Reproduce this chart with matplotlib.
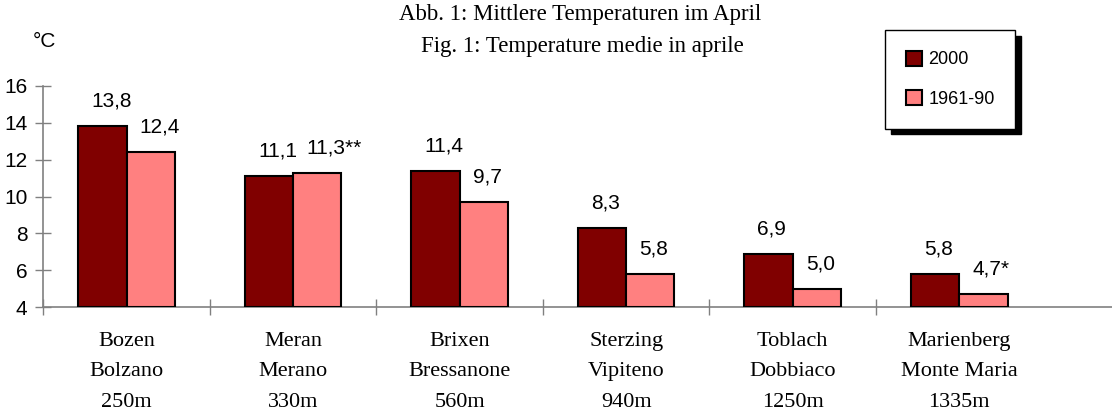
import matplotlib.pyplot as plt
import numpy as np

# data
stations = ['Bozen\nBolzano\n250m', 'Meran\nMerano\n330m', 'Brixen\nBressanone\n560m',
            'Sterzing\nVipiteno\n940m', 'Toblach\nDobbiaco\n1250m', 'Marienberg\nMonte Maria\n1335m']
t2000 = [13.8, 11.1, 11.4, 8.3, 6.9, 5.8]
t6190 = [12.4, 11.3, 9.7, 5.8, 5.0, 4.7]
lbl2000 = ['13,8', '11,1', '11,4', '8,3', '6,9', '5,8']
lbl6190 = ['12,4', '11,3**', '9,7', '5,8', '5,0', '4,7*']
yticks = [4, 6, 8, 10, 12, 14, 16]

dark = '#800000'
light = '#FF8080'
grey = '#808080'

fig = plt.figure(figsize=(11.12, 4.15), dpi=100)
ax = fig.add_axes([0.039, 0.260, 0.961, 0.533])

x = np.arange(len(stations)) + 0.5
w = 0.29
ax.bar(x - w/2, np.array(t2000) - 4, w, bottom=4, color=dark, edgecolor='black', lw=1.5,
       label='2000', zorder=3)
ax.bar(x + w/2, np.array(t6190) - 4, w, bottom=4, color=light, edgecolor='black', lw=1.5,
       label='1961-90', zorder=3)

for xi, v, s in zip(x - w/2, t2000, lbl2000):
    ax.annotate(s, (xi, v), xytext=(-8, 18), textcoords='offset points',
                ha='left', va='center', fontsize=15, family='Liberation Sans')
for xi, v, s in zip(x + w/2, t6190, lbl6190):
    ax.annotate(s, (xi, v), xytext=(-8, 18), textcoords='offset points',
                ha='left', va='center', fontsize=15, family='Liberation Sans')

ax.set_ylim(4, 16)
ax.set_xlim(0, (1112 - 43.5) / 166.5)
ax.set_yticks(yticks)
ax.set_yticklabels([str(t) for t in yticks], fontsize=15, family='Liberation Sans')
ax.set_xticks(x)
ax.set_xticklabels(stations, fontsize=16, family='Liberation Serif', linespacing=1.8)
ax.set_xticks(np.arange(0, len(stations)), minor=True)
ax.tick_params(axis='x', which='major', length=0, pad=18)
ax.tick_params(axis='x', which='minor', direction='inout', length=11, color=grey, width=1)
ax.tick_params(axis='y', direction='inout', length=11, color=grey, width=1, pad=6)

for sp in ['top', 'right']:
    ax.spines[sp].set_visible(False)
for sp in ['left', 'bottom']:
    ax.spines[sp].set_color(grey)
    ax.spines[sp].set_linewidth(1.2)

fig.text(0.040, 0.90, '°C', fontsize=15, family='Liberation Sans', ha='center', va='center')
fig.text(0.522, 0.966, 'Abb. 1: Mittlere Temperaturen im April', fontsize=16.5,
         family='Liberation Serif', ha='center', va='center')
fig.text(0.524, 0.889, 'Fig. 1: Temperature medie in aprile', fontsize=16.5,
         family='Liberation Serif', ha='center', va='center')

leg = ax.legend(loc='upper left', bbox_to_anchor=(885 / 1112, 1 - 30 / 415),
                bbox_transform=fig.transFigure, fancybox=False, framealpha=1,
                edgecolor='black', handlelength=0.9, handleheight=0.9, handletextpad=0.35,
                labelspacing=1.2, borderpad=1.15, borderaxespad=0,
                prop={'family': 'Liberation Sans', 'size': 13},
                shadow={'ox': 4, 'oy': -4, 'color': 'black', 'alpha': 1})
leg.get_frame().set_linewidth(1.0)

fig.savefig('out.png', dpi=100)
